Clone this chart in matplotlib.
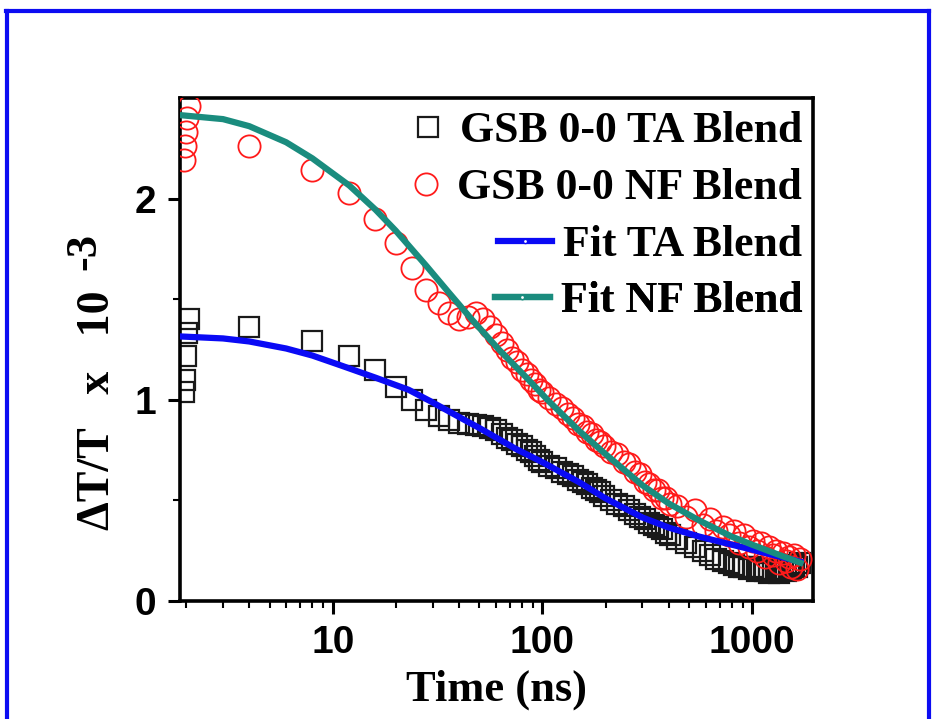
import matplotlib
matplotlib.use('Agg')
import matplotlib.pyplot as plt
from matplotlib.lines import Line2D
from matplotlib.ticker import FixedLocator, FixedFormatter, LogLocator, NullFormatter

# measured time points (ns)
time_ns = [1.95, 1.98, 2.0, 2.03, 2.06,
           4, 8, 12, 16, 20, 24, 28, 32, 36, 40, 44, 48, 52, 56, 60,
           64, 68, 72, 76, 80, 84, 88, 92, 96, 100,
           108, 116, 124, 132, 140, 148, 156, 164, 172, 180, 188, 196,
           212, 228, 244, 260, 276, 292, 308, 324, 340, 356, 372, 388, 404,
           436, 484, 532, 580, 628, 676, 724, 772, 820, 868, 916, 964, 1012, 1060,
           1108, 1156, 1204, 1252, 1300, 1348, 1396, 1444, 1492, 1540, 1588, 1636, 1684]

# GSB 0-0 TA Blend (x 10^-3)
ta_blend = [1.04, 1.10, 1.22, 1.33, 1.40,
            1.36, 1.29, 1.22, 1.15, 1.065, 1.00, 0.95, 0.92, 0.90, 0.885, 0.88, 0.875, 0.87, 0.86, 0.85,
            0.83, 0.81, 0.80, 0.78, 0.77, 0.75, 0.74, 0.72, 0.70, 0.69,
            0.67, 0.66, 0.64, 0.63, 0.62, 0.60, 0.59, 0.58, 0.56, 0.55, 0.54, 0.52,
            0.50, 0.48, 0.47, 0.45, 0.43, 0.42, 0.41, 0.39, 0.38, 0.37, 0.36, 0.34, 0.33,
            0.31, 0.29, 0.27, 0.25, 0.23, 0.21, 0.20, 0.19, 0.18, 0.17, 0.17, 0.16, 0.17, 0.15,
            0.16, 0.15, 0.14, 0.16, 0.15, 0.14, 0.16, 0.15, 0.17, 0.16, 0.18, 0.17, 0.19]

# GSB 0-0 NF Blend (x 10^-3)
nf_blend = [2.19, 2.26, 2.33, 2.40, 2.46,
            2.26, 2.14, 2.03, 1.90, 1.78, 1.655, 1.545, 1.48, 1.43, 1.40, 1.41, 1.43, 1.40, 1.36, 1.32,
            1.28, 1.25, 1.21, 1.19, 1.15, 1.13, 1.10, 1.08, 1.05, 1.04,
            1.01, 0.98, 0.96, 0.93, 0.91, 0.88, 0.87, 0.84, 0.83, 0.80, 0.79, 0.77,
            0.74, 0.73, 0.69, 0.68, 0.64, 0.63, 0.59, 0.58, 0.55, 0.55, 0.51, 0.51, 0.48,
            0.47, 0.42, 0.45, 0.38, 0.41, 0.35, 0.37, 0.33, 0.35, 0.29, 0.33, 0.27, 0.30, 0.25,
            0.29, 0.22, 0.27, 0.23, 0.25, 0.19, 0.24, 0.20, 0.22, 0.17, 0.23, 0.16, 0.21]

# fit curves
fit_ta_t = [1.87, 3, 4, 6, 8, 11, 16, 23, 29, 40, 50, 75, 100, 150, 200, 300, 400, 560, 800, 1000, 1300, 1700]
fit_ta = [1.315, 1.305, 1.29, 1.255, 1.22, 1.17, 1.11, 1.05, 0.995, 0.915, 0.86, 0.755, 0.69, 0.59, 0.51,
          0.415, 0.365, 0.32, 0.28, 0.255, 0.225, 0.195]

fit_nf_t = [1.87, 3, 4, 6, 8, 12, 16, 20, 28, 36, 46, 62, 84, 108, 150, 200, 300, 400, 560, 800, 1000,
            1300, 1700]
fit_nf = [2.415, 2.395, 2.36, 2.28, 2.2, 2.065, 1.945, 1.84, 1.665, 1.53, 1.40, 1.25, 1.11, 0.99, 0.845,
          0.73, 0.575, 0.485, 0.40, 0.32, 0.28, 0.235, 0.19]

legend_labels = ['GSB 0-0 TA Blend', 'GSB 0-0 NF Blend', 'Fit TA Blend', 'Fit NF Blend']
x_ticks = [10, 100, 1000]
x_ticklabels = ['10', '100', '1000']
y_ticks = [0, 1, 2]

plt.rcParams['font.family'] = 'Liberation Sans'
plt.rcParams['font.weight'] = 'bold'
serif = {'family': 'Liberation Serif', 'weight': 'bold'}

c_sq = '#1a1a1a'
c_ci = '#ff1a1a'
c_ta = '#0a0af5'
c_nf = '#1a8c7e'

fig = plt.figure(figsize=(9.34, 7.19), dpi=100)
ax = fig.add_axes([0.1927, 0.1641, 0.6777, 0.6996])

sq, = ax.plot(time_ns, ta_blend, ls='none', marker='s', ms=14, mfc='none', mec=c_sq, mew=1.6, zorder=2)
ci, = ax.plot(time_ns, nf_blend, ls='none', marker='o', ms=16, mfc='none', mec=c_ci, mew=1.3, zorder=3)
ax.plot(fit_ta_t, fit_ta, color=c_ta, lw=4.5, zorder=4)
ax.plot(fit_nf_t, fit_nf, color=c_nf, lw=4.5, zorder=5)

ax.set_xscale('log')
ax.set_xlim(1.87, 1950)
ax.set_ylim(0, 2.5)
ax.xaxis.set_major_locator(FixedLocator(x_ticks))
ax.xaxis.set_major_formatter(FixedFormatter(x_ticklabels))
ax.xaxis.set_minor_locator(LogLocator(base=10, subs=range(2, 10)))
ax.xaxis.set_minor_formatter(NullFormatter())
ax.yaxis.set_major_locator(FixedLocator(y_ticks))
ax.yaxis.set_minor_locator(FixedLocator([0.5, 1.5]))

ax.tick_params(which='major', direction='out', length=9, width=2.2, pad=8, labelsize=28)
ax.tick_params(which='minor', direction='out', length=5, width=1.5)
for s in ax.spines.values():
    s.set_linewidth(2.6)

# right aligned legend rows, one legend per row
ta_h = Line2D([], [], color=c_ta, lw=4.5, marker='o', ms=3, mfc='white', mec=c_ta)
nf_h = Line2D([], [], color=c_nf, lw=4.5, marker='o', ms=3, mfc='white', mec=c_nf)
rows = [(sq, 0.934, 0.95), (ci, 0.821, 0.95), (ta_h, 0.708, 1.25), (nf_h, 0.596, 1.25)]
for (h, y, hl), lab in zip(rows, legend_labels):
    leg = ax.legend([h], [lab], loc='center right', bbox_to_anchor=(0.983, y), frameon=False,
                    handlelength=hl, handletextpad=0.25, borderpad=0, borderaxespad=0,
                    numpoints=1, prop={'family': 'Liberation Serif', 'weight': 'bold', 'size': 31.5})
    ax.add_artist(leg)

fig.text(497 / 934, 1 - 690 / 719, 'Time (ns)', ha='center', va='center', fontsize=32, fontdict=serif)
fig.text(98 / 934, 1 - 410 / 719, 'ΔT/T   x   10', ha='center', va='center', rotation=90,
         fontsize=33, fontdict=serif)
fig.text(84 / 934, 1 - 252 / 719, '-3', ha='center', va='center', rotation=90,
         fontsize=32, fontdict=serif)

# blue frame around the figure
for xs, ys in [([6 / 934, 929 / 934], [1 - 11 / 719] * 2),
               ([6.5 / 934] * 2, [0, 1 - 11 / 719]),
               ([929 / 934] * 2, [0, 1 - 11 / 719])]:
    fig.add_artist(Line2D(xs, ys, transform=fig.transFigure, color='#0c0cf2', lw=3))

fig.savefig('out.png', dpi=100)
